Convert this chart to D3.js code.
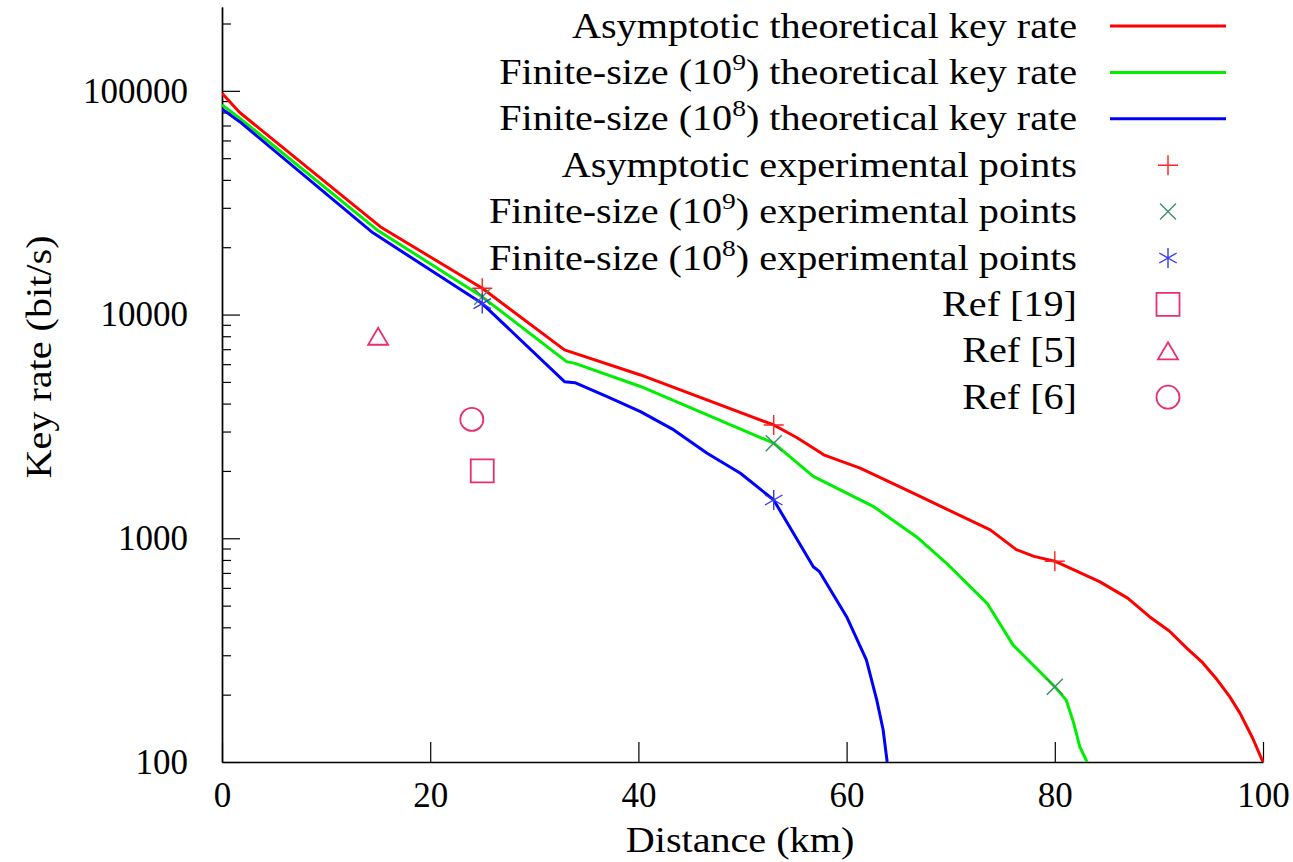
<!DOCTYPE html>
<html>
<head>
<meta charset="utf-8">
<script src="https://cdn.jsdelivr.net/npm/d3@7"></script>
<style>
  body { margin: 0; background: #fff; }
  svg text { font-family: "Liberation Serif", "DejaVu Serif", "Times New Roman", serif; fill: #000; }
</style>
</head>
<body>
<div id="chart"></div>
<script>
// distance (km), key rate (bit/s)
const asymptoticCurve = [
  [0, 97500], [1.7, 80000], [15.2, 24700], [25, 13100], [32.9, 6950], [40.2, 5370],
  [53, 3210], [55.2, 2820], [57.1, 2480], [57.8, 2360], [61.3, 2060], [66.4, 1590], [73.8, 1090],
  [76.3, 890], [78, 830], [80, 790], [84.3, 640], [87, 540], [89.1, 446], [91, 385], [92.7, 322],
  [94.2, 278], [95.6, 233], [96.8, 196], [97.8, 165], [99, 128], [100, 100]
];
const finite9Curve = [
  [0, 86500], [1.7, 75500], [14.9, 23900], [25, 12000], [33.1, 6160], [33.9, 6050],
  [40.2, 4770], [53, 2660], [56.8, 1890], [62.6, 1384], [66.7, 1016], [69.6, 773],
  [73.5, 512], [76, 333], [80, 217], [81.1, 189], [81.8, 150], [82.4, 117], [83.1, 100]
];
const finite8Curve = [
  [0, 83000], [1.7, 72800], [14.5, 23200], [25, 11200], [32.9, 5010], [33.9, 4960],
  [37, 4295], [40.2, 3680], [43.4, 3050], [46.6, 2400], [49.8, 1953], [53, 1483],
  [56.8, 746], [57.4, 709], [60, 446], [61.9, 286], [62.9, 189], [63.5, 140], [63.9, 100]
];

const asymptoticPoints = [[25, 13100], [53, 3210], [80, 790]];
const finite9Points = [[25, 12000], [53, 2660], [80, 217]];
const finite8Points = [[25, 11200], [53, 1483]];
const ref19Points = [[25, 2000]];
const ref5Points = [[15, 8000]];
const ref6Points = [[24, 3400]];

const xTicks = [0, 20, 40, 60, 80, 100];
const yMajorTicks = [100, 1000, 10000, 100000];

const width = 1293, height = 862;
const plot = { left: 222, right: 1263, top: 7, bottom: 762 };
const font = 35;
const serif = '"Liberation Serif", "DejaVu Serif", "Times New Roman", serif';

const svg = d3.select('#chart').append('svg')
  .attr('width', width)
  .attr('height', height);

// horizontal stretch so the installed face matches the wider TeX font widths
const probe = svg.append('text').attr('font-size', font).attr('font-family', serif)
  .text('Asymptotic theoretical key rate');
const widen = 505 / probe.node().getComputedTextLength();
probe.remove();

const x = d3.scaleLinear().domain([0, 100]).range([plot.left, plot.right]);
const y = d3.scaleLog().domain([100, 237000]).range([plot.bottom, plot.top]);

// minor ticks 2..9 of each decade
const yMinorTicks = [];
for (let p = 100; p < 237000; p *= 10) {
  for (let k = 2; k <= 9; k++) {
    if (p * k < 237000) yMinorTicks.push(p * k);
  }
}

function styleAxis(g) {
  g.attr('font-family', serif);
  g.selectAll('path.domain').attr('stroke', '#000').attr('stroke-width', 1.4);
  g.selectAll('.tick line').attr('stroke', '#000').attr('stroke-width', 1.2);
  g.selectAll('.tick text')
    .attr('font-size', font)
    .attr('fill', '#000');
}

svg.append('g')
  .attr('transform', `translate(0,${plot.bottom})`)
  .call(d3.axisBottom(x).tickValues(xTicks).tickFormat(d3.format('d'))
    .tickSizeInner(-20).tickSizeOuter(0).tickPadding(20))
  .call(styleAxis);

svg.append('g')
  .attr('transform', `translate(${plot.left},0)`)
  .call(d3.axisLeft(y).tickValues(yMinorTicks).tickFormat('')
    .tickSizeInner(-9).tickSizeOuter(0))
  .call(styleAxis);

svg.append('g')
  .attr('transform', `translate(${plot.left},0)`)
  .call(d3.axisLeft(y).tickValues(yMajorTicks).tickFormat(d3.format('d'))
    .tickSizeInner(-18).tickSizeOuter(0).tickPadding(34))
  .call(styleAxis);

function stretch(sel) {
  sel.each(function() {
    const len = this.getComputedTextLength();
    d3.select(this).attr('textLength', len * widen).attr('lengthAdjust', 'spacingAndGlyphs');
  });
}

svg.append('text')
  .attr('x', 740)
  .attr('y', 852)
  .attr('text-anchor', 'middle')
  .attr('font-size', font)
  .text('Distance (km)')
  .call(stretch);

svg.append('text')
  .attr('transform', 'translate(51,357) rotate(-90)')
  .attr('text-anchor', 'middle')
  .attr('font-size', font)
  .text('Key rate (bit/s)')
  .call(stretch);

// curves
svg.append('clipPath').attr('id', 'plot-clip')
  .append('rect')
  .attr('x', plot.left).attr('y', plot.top)
  .attr('width', plot.right - plot.left + 2).attr('height', plot.bottom - plot.top);

const line = d3.line()
  .x(d => x(d[0]))
  .y(d => y(d[1]));

const curves = [
  { data: asymptoticCurve, color: '#ff0000' },
  { data: finite9Curve, color: '#00ee00' },
  { data: finite8Curve, color: '#0000ff' }
];

svg.append('g').attr('clip-path', 'url(#plot-clip)')
  .selectAll('path')
  .data(curves)
  .join('path')
  .attr('d', d => line(d.data))
  .attr('fill', 'none')
  .attr('stroke', d => d.color)
  .attr('stroke-width', 3)
  .attr('stroke-linejoin', 'round');

// point markers
const refColor = '#e8306c';
const markers = {
  plus: { d: 'M-10,0H10M0,-10V10', color: '#ff2020', width: 1.4 },
  cross: { d: 'M-8,-8L8,8M-8,8L8,-8', color: '#3c8c64', width: 1.4 },
  star: { d: 'M0,-10V10M-8.7,-5L8.7,5M-8.7,5L8.7,-5', color: '#3838f0', width: 1.4 },
  square: { d: 'M-11.5,-11.5H11.5V11.5H-11.5Z', color: refColor, width: 1.8 },
  triangle: { d: 'M0,-8.5L10,8.5H-10Z', color: refColor, width: 1.8 },
  circle: { d: 'M11.5,0A11.5,11.5 0 1,1 -11.5,0A11.5,11.5 0 1,1 11.5,0Z', color: refColor, width: 1.8 }
};

function drawMarkers(data, kind) {
  const m = markers[kind];
  svg.append('g')
    .selectAll('path')
    .data(data)
    .join('path')
    .attr('transform', d => `translate(${x(d[0])},${y(d[1])})`)
    .attr('d', m.d)
    .attr('fill', 'none')
    .attr('stroke', m.color)
    .attr('stroke-width', m.width);
}

drawMarkers(asymptoticPoints, 'plus');
drawMarkers(finite9Points, 'cross');
drawMarkers(finite8Points, 'star');
drawMarkers(ref19Points, 'square');
drawMarkers(ref5Points, 'triangle');
drawMarkers(ref6Points, 'circle');

// legend
const legendItems = [
  { parts: ['Asymptotic theoretical key rate'], line: '#ff0000' },
  { parts: ['Finite-size (10', '9', ') theoretical key rate'], line: '#00ee00' },
  { parts: ['Finite-size (10', '8', ') theoretical key rate'], line: '#0000ff' },
  { parts: ['Asymptotic experimental points'], marker: 'plus' },
  { parts: ['Finite-size (10', '9', ') experimental points'], marker: 'cross' },
  { parts: ['Finite-size (10', '8', ') experimental points'], marker: 'star' },
  { parts: ['Ref [19]'], marker: 'square' },
  { parts: ['Ref [5]'], marker: 'triangle' },
  { parts: ['Ref [6]'], marker: 'circle' }
];

const legend = svg.append('g');
const rowTop = 26, rowStep = 46.4;
const textRight = 1077, sampleLeft = 1110, sampleRight = 1226;

legendItems.forEach((item, i) => {
  const cy = rowTop + i * rowStep;
  const t = legend.append('text')
    .attr('x', textRight)
    .attr('y', cy + 11.5)
    .attr('text-anchor', 'end')
    .attr('font-size', font);
  if (item.parts.length === 1) {
    t.text(item.parts[0]);
  } else {
    t.append('tspan').text(item.parts[0]);
    t.append('tspan').attr('dy', -14).attr('font-size', 24).text(item.parts[1]);
    t.append('tspan').attr('dy', 14).text(item.parts[2]);
  }
  t.call(stretch);

  if (item.line) {
    legend.append('line')
      .attr('x1', sampleLeft).attr('x2', sampleRight)
      .attr('y1', cy).attr('y2', cy)
      .attr('stroke', item.line)
      .attr('stroke-width', 3);
  } else {
    const m = markers[item.marker];
    legend.append('path')
      .attr('transform', `translate(${(sampleLeft + sampleRight) / 2},${cy})`)
      .attr('d', m.d)
      .attr('fill', 'none')
      .attr('stroke', m.color)
      .attr('stroke-width', m.width);
  }
});
</script>
</body>
</html>
